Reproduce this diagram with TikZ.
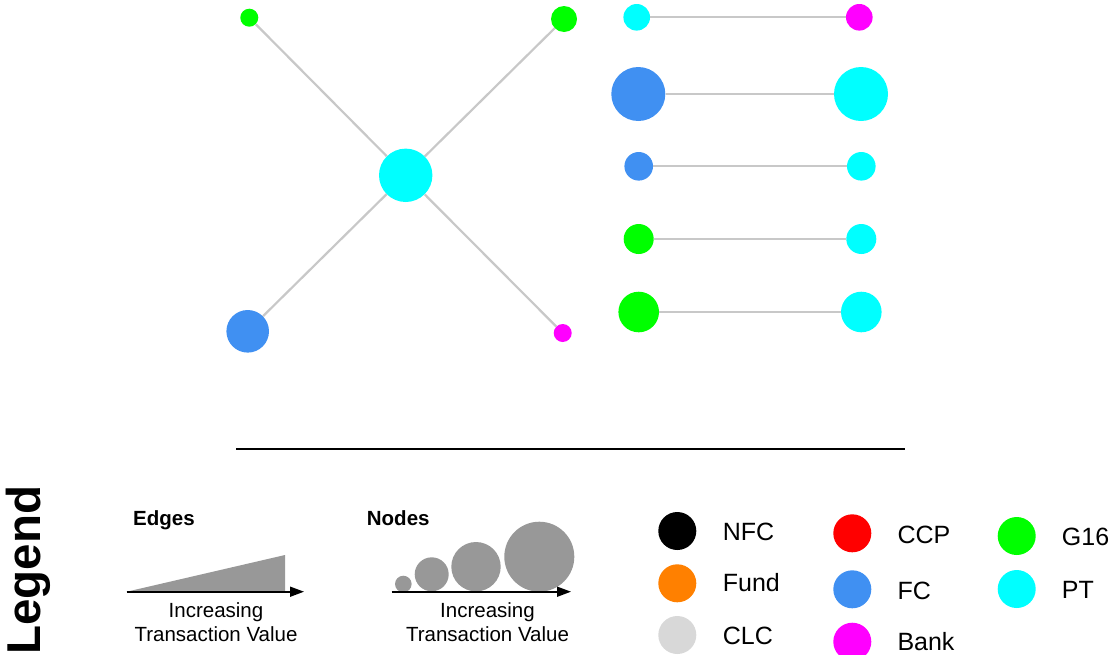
\documentclass[tikz,border=0pt]{standalone}
\usepackage{fontspec}
\setmainfont{Liberation Sans}
\usetikzlibrary{arrows.meta}
\definecolor{cG16}{RGB}{0,255,0}
\definecolor{cPT}{RGB}{0,255,255}
\definecolor{cBank}{RGB}{255,0,255}
\definecolor{cFC}{RGB}{64,144,242}
\definecolor{cCCP}{RGB}{255,0,0}
\definecolor{cNFC}{RGB}{0,0,0}
\definecolor{cFund}{RGB}{255,128,0}
\definecolor{cCLC}{RGB}{216,216,216}
\definecolor{edgegray}{RGB}{200,200,200}
\definecolor{scalegray}{RGB}{152,152,152}
\tikzset{
  dot/.style={circle, inner sep=0pt, minimum size=#1},
  link/.style={draw=edgegray, line width=2.2pt},
  hdr/.style={anchor=base west, inner sep=0pt, font=\fontsize{20.5}{20.5}\selectfont\bfseries},
  caption/.style={anchor=base, inner sep=0pt, font=\fontsize{20.5}{20.5}\selectfont},
  keylabel/.style={anchor=base west, inner sep=0pt, font=\fontsize{25}{25}\selectfont},
  axis/.style={line width=1.6pt, -{Triangle[length=14pt,width=10pt]}},
}
\begin{document}
\begin{tikzpicture}[x=1pt, y=-1pt]
\useasboundingbox (0,0) rectangle (1115,654);

% star component around one PT node
\node[dot=53.4, fill=cPT]   (hub) at (405.7,175.3) {};
\node[dot=18,   fill=cG16]  (s1)  at (249.3,17.7) {};
\node[dot=26,   fill=cG16]  (s2)  at (564,19) {};
\node[dot=42.6, fill=cFC]   (s3)  at (247.7,331.3) {};
\node[dot=18,   fill=cBank] (s4)  at (562.7,333) {};
\draw[link] (hub) -- (s1);
\draw[link] (hub) -- (s2);
\draw[link] (hub) -- (s3);
\draw[link] (hub) -- (s4);

% isolated pairs
\node[dot=26.6, fill=cPT]   (a1) at (636.7,17.3) {};
\node[dot=26.6, fill=cBank] (b1) at (859.3,17.3) {};
\node[dot=54,   fill=cFC]   (a2) at (638.3,94) {};
\node[dot=54,   fill=cPT]   (b2) at (861,94) {};
\node[dot=28.6, fill=cFC]   (a3) at (638.7,166.3) {};
\node[dot=28.6, fill=cPT]   (b3) at (861.3,166.3) {};
\node[dot=30,   fill=cG16]  (a4) at (638.7,239) {};
\node[dot=30,   fill=cPT]   (b4) at (861.3,239) {};
\node[dot=40.6, fill=cG16]  (a5) at (638.7,312) {};
\node[dot=40.6, fill=cPT]   (b5) at (861.3,312) {};
\draw[link] (a1) -- (b1);
\draw[link] (a2) -- (b2);
\draw[link] (a3) -- (b3);
\draw[link] (a4) -- (b4);
\draw[link] (a5) -- (b5);

% separator
\draw[line width=2.6pt] (236,449) -- (905,449);

% legend title
\node[rotate=90, inner sep=0pt, font=\fontsize{47.5}{47.5}\selectfont\bfseries] (title) at (28.5,570) {Legend};

% edge width scale
\node[hdr] (ehdr) at (133,525) {Edges};
\fill[scalegray] (126.7,591.7) -- (285,591.7) -- (285,555) -- cycle;
\coordinate (ea) at (126.7,591.7);
\coordinate (eb) at (304,591.7);
\draw[axis] (ea) -- (eb);
\node[caption] (ec1) at (216,617) {Increasing};
\node[caption] (ec2) at (216,641.5) {Transaction Value};

% node size scale
\node[hdr] (nhdr) at (366.7,525) {Nodes};
\fill[scalegray] (403.3,584) circle (8.3);
\fill[scalegray] (431.7,574.3) circle (17);
\fill[scalegray] (476,566.7) circle (24.7);
\fill[scalegray] (539.3,556.7) circle (35);
\coordinate (na) at (391.7,591.7);
\coordinate (nb) at (571,591.7);
\draw[axis] (na) -- (nb);
\node[caption] (nc1) at (487.5,617) {Increasing};
\node[caption] (nc2) at (487.5,641.5) {Transaction Value};

% sector colours
\node[dot=38, fill=cNFC]  (kNFC)  at (677.3,531) {};
\node[keylabel] (lNFC) at (722.7,540) {NFC};
\node[dot=38, fill=cFund] (kFund) at (677.3,583.3) {};
\node[keylabel] (lFund) at (722.7,591.7) {Fund};
\node[dot=38, fill=cCLC]  (kCLC)  at (677.3,635) {};
\node[keylabel] (lCLC) at (722.7,644) {CLC};

\node[dot=38, fill=cCCP]  (kCCP)  at (852.3,533.3) {};
\node[keylabel] (lCCP) at (897.3,543.3) {CCP};
\node[dot=38, fill=cFC]   (kFC)   at (852.3,589.3) {};
\node[keylabel] (lFC) at (897.3,599) {FC};
\node[dot=38, fill=cBank] (kBank) at (852.3,641.7) {};
\node[keylabel] (lBank) at (897.3,650) {Bank};

\node[dot=38, fill=cG16]  (kG16)  at (1016.7,536) {};
\node[keylabel] (lG16) at (1061.7,545) {G16};
\node[dot=38, fill=cPT]   (kPT)   at (1016.7,589) {};
\node[keylabel] (lPT) at (1061.7,598.3) {PT};
\end{tikzpicture}
\end{document}
